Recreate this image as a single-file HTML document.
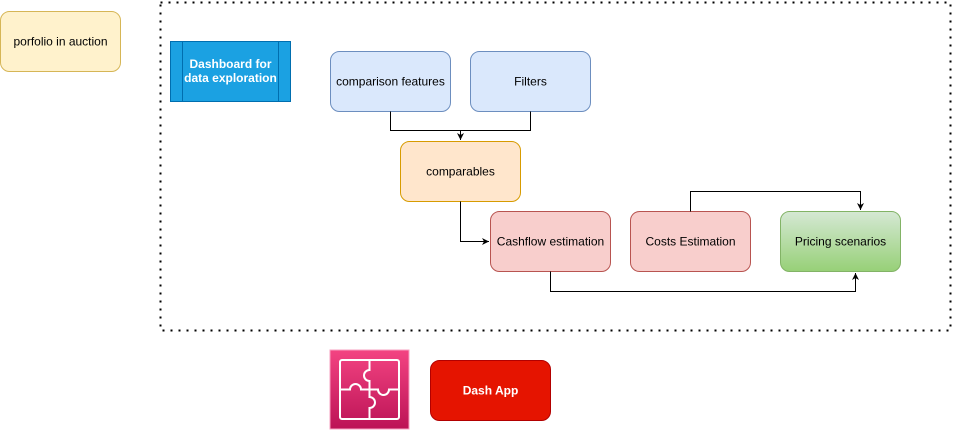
<!DOCTYPE html>
<html><head><style>
body{margin:0;width:954px;height:430px;background:#fff;overflow:hidden}
svg text{font-family:"Liberation Sans",Arial,sans-serif;font-size:12px}
</style></head><body>
<svg width="954" height="430" xmlns="http://www.w3.org/2000/svg">
<defs>
<linearGradient id="g" x1="0" y1="0" x2="0" y2="1"><stop offset="0" stop-color="#d5e8d4"/><stop offset="1" stop-color="#97d077"/></linearGradient>
<linearGradient id="p" x1="0" y1="0" x2="0" y2="1"><stop offset="0" stop-color="#f34482"/><stop offset="1" stop-color="#bc1356"/></linearGradient>
<marker id="a" markerWidth="8" markerHeight="8" refX="7" refY="4" orient="auto" markerUnits="userSpaceOnUse"><path d="M0,0.5 L7,4 L0,7.5 L2,4 z" fill="#000"/></marker>
</defs>
<rect x="160.5" y="2.5" width="790" height="328" fill="none" stroke="#000" stroke-width="2" stroke-dasharray="2,6"/>
<rect x="0.5" y="11.5" width="120" height="60" rx="9" fill="#fff2cc" stroke="#d6b656"/>
<text x="60.5" y="45.5" text-anchor="middle">porfolio in auction</text>
<rect x="170.5" y="41.5" width="120" height="60" fill="#1ba1e2" stroke="#006eaf"/>
<line x1="182.5" y1="41.5" x2="182.5" y2="101.5" stroke="#006eaf"/>
<line x1="278.5" y1="41.5" x2="278.5" y2="101.5" stroke="#006eaf"/>
<text x="230.5" y="68" text-anchor="middle" fill="#fff" font-weight="bold">Dashboard for</text>
<text x="230.5" y="82" text-anchor="middle" fill="#fff" font-weight="bold">data exploration</text>
<rect x="330.5" y="51.5" width="120" height="60" rx="9" fill="#dae8fc" stroke="#6c8ebf"/>
<text x="390.5" y="85.5" text-anchor="middle">comparison features</text>
<rect x="470.5" y="51.5" width="120" height="60" rx="9" fill="#dae8fc" stroke="#6c8ebf"/>
<text x="530.5" y="85.5" text-anchor="middle">Filters</text>
<rect x="400.5" y="141.5" width="120" height="60" rx="9" fill="#ffe6cc" stroke="#d79b00"/>
<text x="460.5" y="175.5" text-anchor="middle">comparables</text>
<rect x="490.5" y="211.5" width="120" height="60" rx="9" fill="#f8cecc" stroke="#b85450"/>
<text x="550.5" y="245.5" text-anchor="middle">Cashflow estimation</text>
<rect x="630.5" y="211.5" width="120" height="60" rx="9" fill="#f8cecc" stroke="#b85450"/>
<text x="690.5" y="245.5" text-anchor="middle">Costs Estimation</text>
<rect x="780.5" y="211.5" width="120" height="60" rx="9" fill="url(#g)" stroke="#82b366"/>
<text x="840.5" y="245.5" text-anchor="middle">Pricing scenarios</text>
<g fill="none" stroke="#000">
<path d="M390.5,111.5 V130.5 H460.5 V140" marker-end="url(#a)"/>
<path d="M530.5,111.5 V130.5 H460.5"/>
<path d="M460.5,201.5 V241.5 H489" marker-end="url(#a)"/>
<path d="M690.5,211.5 V191.5 H860.5 V210" marker-end="url(#a)"/>
<path d="M550.5,271.5 V291.5 H855.5 V273" marker-end="url(#a)"/>
</g>
<rect x="330" y="350" width="79" height="79" fill="url(#p)" stroke="#f7a0c0"/>
<g fill="none" stroke="#fff" stroke-width="2">
<rect x="340" y="360" width="59" height="59" rx="2"/>
<path d="M369.5,360 V370 a5.5,5.5 0 1 0 0,11 V397 a5.5,5.5 0 1 1 0,11 V419"/>
<path d="M340,389.5 H350 a5.5,5.5 0 1 1 11,0 H378 a5.5,5.5 0 1 0 11,0 H399"/>
</g>
<rect x="430.5" y="360.5" width="120" height="60" rx="9" fill="#e51400" stroke="#b20000"/>
<text x="490.5" y="394.5" text-anchor="middle" fill="#fff" font-weight="bold">Dash App</text>
</svg>
</body></html>
